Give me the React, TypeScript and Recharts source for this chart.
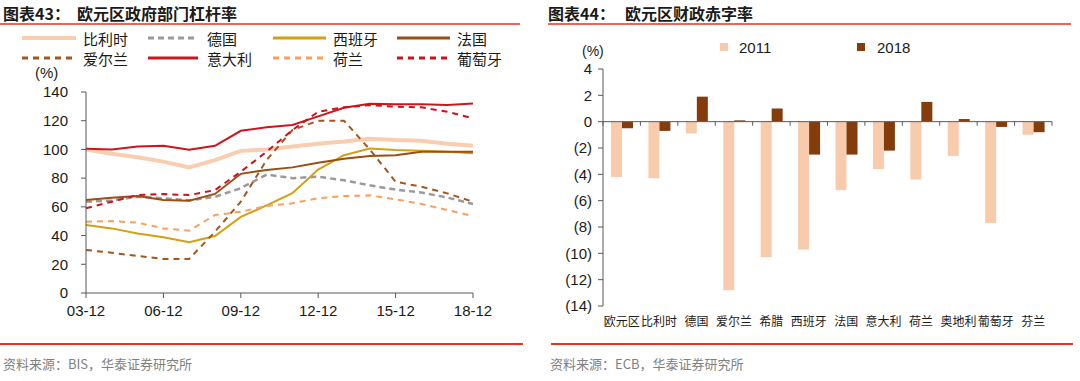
import React from 'react';
import { LineChart, Line, XAxis, YAxis, BarChart, Bar, ReferenceLine } from 'recharts';

// 图表43 政府部门杠杆率 (%), year-end
const years = ['03-12', '04-12', '05-12', '06-12', '07-12', '08-12', '09-12', '10-12', '11-12', '12-12', '13-12', '14-12', '15-12', '16-12', '17-12', '18-12'];
const belgium = [100, 97, 94.5, 91.5, 87.5, 92.5, 99, 100, 102, 104, 105.5, 107.5, 106.5, 106, 104, 102.5];
const germany = [63.5, 64.5, 67, 66, 64.5, 67, 73, 82.5, 80, 81, 78.5, 75, 72, 70, 66.5, 62];
const spain = [47.3, 45, 41.5, 38.8, 35.3, 39.7, 53, 61, 69.5, 86, 96, 100.7, 99.6, 99.1, 98.4, 97.3];
const france = [64.8, 66.4, 67.5, 64.8, 64.3, 69, 83, 85.7, 87.5, 90.7, 93.5, 95.4, 96, 98.4, 98.4, 98.4];
const ireland = [30, 28, 25.8, 23.7, 23.7, 42.7, 63.6, 92.6, 113.5, 120, 120, 100, 77.5, 74, 69.4, 63.6];
const italy = [100.5, 100, 102, 102.5, 99.7, 102.5, 113, 115.5, 117, 123, 129, 131.8, 131.5, 131.5, 131, 132];
const netherlands = [49.7, 50.1, 49, 45, 43.4, 54.3, 56.6, 60.6, 62.5, 66, 67.5, 68, 65.2, 62, 57.8, 53.6];
const portugal = [59, 63.6, 68.2, 68.9, 68.2, 71.7, 84.5, 98.4, 113.5, 126.3, 129.3, 130.9, 129.7, 129.3, 126.3, 121.6];
const leverageTicks = [0, 20, 40, 60, 80, 100, 120, 140];

// 图表44 财政赤字率 (%)
const countries = ['欧元区', '比利时', '德国', '爱尔兰', '希腊', '西班牙', '法国', '意大利', '荷兰', '奥地利', '葡萄牙', '芬兰'];
const deficit2011 = [-4.2, -4.3, -0.9, -12.8, -10.3, -9.7, -5.2, -3.6, -4.4, -2.6, -7.7, -1.0];
const deficit2018 = [-0.5, -0.7, 1.9, 0.1, 1.0, -2.5, -2.5, -2.2, 1.5, 0.2, -0.4, -0.8];
const deficitTicks = [4, 2, 0, -2, -4, -6, -8, -10, -12, -14];

const seriesStyle = [
  { key: 'belgium', name: '比利时', color: '#F9CDB0', width: 4, dash: undefined },
  { key: 'germany', name: '德国', color: '#9A9A9A', width: 2.5, dash: '6 4' },
  { key: 'spain', name: '西班牙', color: '#D4A012', width: 2, dash: undefined },
  { key: 'france', name: '法国', color: '#9C4E12', width: 2, dash: undefined },
  { key: 'ireland', name: '爱尔兰', color: '#A5561C', width: 2, dash: '6 5' },
  { key: 'italy', name: '意大利', color: '#D0141C', width: 2, dash: undefined },
  { key: 'netherlands', name: '荷兰', color: '#F8A05E', width: 2, dash: '6 5' },
  { key: 'portugal', name: '葡萄牙', color: '#D0101A', width: 2, dash: '6 5' },
];

const lineData = years.map((year, i) => ({
  year,
  belgium: belgium[i],
  germany: germany[i],
  spain: spain[i],
  france: france[i],
  ireland: ireland[i],
  italy: italy[i],
  netherlands: netherlands[i],
  portugal: portugal[i],
}));

const barData = countries.map((c, i) => ({ country: c, y2011: deficit2011[i], y2018: deficit2018[i] }));

const LATIN = '"Liberation Sans", Arial, sans-serif';
const CJK = '"Noto Sans CJK SC", sans-serif';
const AXIS = '#595959';
const RED = '#E8321E';

const Txt = ({ x, y, size, children, color = '#1a1a1a', bold = false, font = CJK }: any) => (
  <span
    style={{
      position: 'absolute',
      left: x,
      top: y - size / 2,
      fontSize: size,
      lineHeight: `${size}px`,
      fontFamily: font,
      fontWeight: bold ? 700 : 400,
      color,
      whiteSpace: 'nowrap',
    }}
  >
    {children}
  </span>
);

// x-axis drawn along zero with tick marks at category boundaries
const ZeroAxis = (props: any) => {
  const { x1, y1, x2 } = props;
  const n = countries.length;
  const step = (x2 - x1) / n;
  return (
    <g>
      <line x1={x1} y1={y1} x2={x2} y2={y1} stroke={AXIS} strokeWidth={1} />
      {Array.from({ length: n + 1 }, (_, i) => (
        <line key={i} x1={x1 + i * step} x2={x1 + i * step} y1={y1} y2={y1 + 4} stroke={AXIS} strokeWidth={1} />
      ))}
    </g>
  );
};

const legendCols = [
  { x1: 22, x2: 76, tx: 83 },
  { x1: 148, x2: 198, tx: 207 },
  { x1: 273, x2: 326, tx: 333 },
  { x1: 397, x2: 450, tx: 457 },
];

export default function App() {
  return (
    <div style={{ position: 'absolute', left: 0, top: 0, width: 1080, height: 381, background: '#fff', overflow: 'hidden' }}>
      <svg width={1080} height={381} style={{ position: 'absolute', left: 0, top: 0 }}>
        <line x1={0} x2={520} y1={24} y2={24} stroke={RED} strokeWidth={1.5} />
        <line x1={548} x2={1071} y1={24} y2={24} stroke={RED} strokeWidth={1.5} />
        <line x1={0} x2={523} y1={344} y2={344} stroke={RED} strokeWidth={2} />
        <line x1={551} x2={1073} y1={344} y2={344} stroke={RED} strokeWidth={2} />
        {seriesStyle.map((s, i) => {
          const col = legendCols[i % 4];
          const y = i < 4 ? 38 : 58;
          return (
            <line key={s.key} x1={col.x1} x2={col.x2} y1={y} y2={y} stroke={s.color} strokeWidth={s.width === 4 ? 4 : 3} strokeDasharray={s.dash} />
          );
        })}
        <rect x={720} y={43} width={8} height={8} fill="#F8CBAD" />
        <rect x={857} y={43} width={8} height={8} fill="#843C0C" />
      </svg>

      <Txt x={3} y={13} size={16} bold>图表43：</Txt>
      <Txt x={77} y={13} size={16} bold>欧元区政府部门杠杆率</Txt>
      <Txt x={548} y={13} size={16} bold>图表44：</Txt>
      <Txt x={625} y={13} size={16} bold>欧元区财政赤字率</Txt>

      {seriesStyle.map((s, i) => (
        <Txt key={s.key} x={legendCols[i % 4].tx} y={i < 4 ? 38 : 58} size={15}>
          {s.name}
        </Txt>
      ))}
      <Txt x={35} y={72} size={15} font={LATIN}>(%)</Txt>
      <Txt x={582} y={51} size={14} font={LATIN}>(%)</Txt>
      <Txt x={739} y={47} size={15} font={LATIN}>2011</Txt>
      <Txt x={877} y={47} size={15} font={LATIN}>2018</Txt>

      <Txt x={3} y={363} size={13} color="#7f7f7f">资料来源：BIS，华泰证券研究所</Txt>
      <Txt x={550} y={363} size={13} color="#7f7f7f">资料来源：ECB，华泰证券研究所</Txt>

      <div style={{ position: 'absolute', left: 0, top: 80 }}>
        <LineChart width={500} height={250} data={lineData} margin={{ top: 12, right: 27, bottom: 7, left: 0 }}>
          <XAxis
            dataKey="year"
            interval={2}
            height={30}
            tickSize={5}
            tickMargin={7}
            stroke={AXIS}
            tick={{ fill: '#1a1a1a', fontSize: 15, fontFamily: LATIN }}
          />
          <YAxis
            width={86}
            domain={[0, 140]}
            ticks={leverageTicks}
            interval={0}
            tickSize={5}
            tickMargin={13}
            stroke={AXIS}
            tick={{ fill: '#1a1a1a', fontSize: 15, fontFamily: LATIN }}
          />
          {seriesStyle.map((s) => (
            <Line
              key={s.key}
              type="linear"
              dataKey={s.key}
              stroke={s.color}
              strokeWidth={s.width}
              strokeDasharray={s.dash}
              dot={false}
              activeDot={false}
              isAnimationActive={false}
            />
          ))}
        </LineChart>
      </div>

      <div style={{ position: 'absolute', left: 540, top: 30 }}>
        <BarChart width={535} height={305} data={barData} barGap={0} margin={{ top: 39, right: 23, bottom: 4, left: 0 }}>
          <XAxis
            dataKey="country"
            interval={0}
            height={25}
            axisLine={false}
            tickLine={false}
            tickSize={0}
            tickMargin={11}
            tick={{ fill: '#1a1a1a', fontSize: 12, fontFamily: CJK }}
          />
          <YAxis
            width={63}
            domain={[-14, 4]}
            ticks={deficitTicks}
            interval={0}
            tickSize={5}
            tickMargin={6}
            stroke={AXIS}
            tickFormatter={(v: number) => (v < 0 ? `(${-v})` : `${v}`)}
            tick={{ fill: '#1a1a1a', fontSize: 15, fontFamily: LATIN }}
          />
          <Bar dataKey="y2011" fill="#F8CBAD" barSize={11} isAnimationActive={false} />
          <Bar dataKey="y2018" fill="#843C0C" barSize={11} isAnimationActive={false} />
          <ReferenceLine y={0} shape={ZeroAxis} />
        </BarChart>
      </div>
    </div>
  );
}
